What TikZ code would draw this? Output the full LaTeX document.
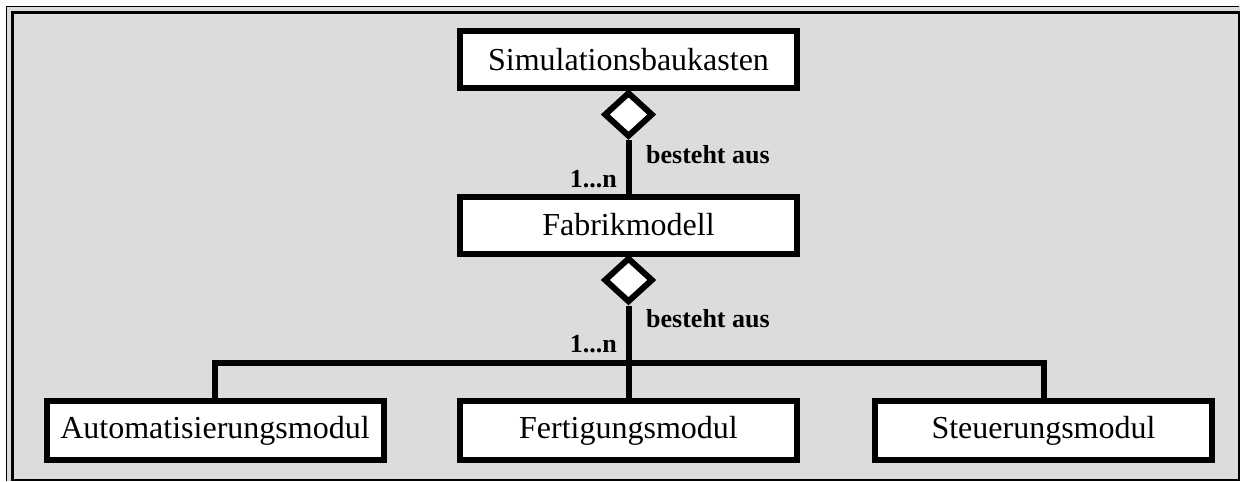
\documentclass[tikz,border=0pt]{standalone}
\usepackage{fontspec}
\setmainfont{Liberation Serif}
\usepackage{xcolor}
\usepackage{tikz}
\usetikzlibrary{positioning,shapes.geometric}

\definecolor{panelgray}{RGB}{220,220,220}

\begin{document}
\begin{tikzpicture}[x=1pt, y=-1pt,
    cls/.style={draw, line width=6pt, fill=white, minimum width=337pt,
                minimum height=57pt, inner sep=0pt, font=\fontsize{32}{38}\selectfont},
    agg/.style={draw, diamond, line width=6pt, fill=white, minimum width=49pt,
                minimum height=45pt, inner sep=0pt},
    link/.style={line width=6pt},
    role/.style={font=\fontsize{26}{30}\selectfont\bfseries, inner sep=0pt}
]
\useasboundingbox (0,0) rectangle (1243,482);

% panel with its double frame
\fill[panelgray] (6,6) rectangle (1240,481);
\draw[line width=1.8pt] (6.5,481) -- (6.5,6.5) -- (1239,6.5);
\draw[line width=2.6pt] (12.5,12.5) rectangle (1239,480);

\node[cls] (sim) at (628.5,59.5) {Simulationsbaukasten};
\node[cls] (fab) at (628.5,225) {Fabrikmodell};
\node[cls, minimum height=59pt] (auto) at (215,430.5) {Automatisierungsmodul};
\node[cls, minimum height=59pt] (fert) at (628.5,430.5) {Fertigungsmodul};
\node[cls, minimum height=59pt] (steu) at (1043.5,430.5) {Steuerungsmodul};

\node[agg, below=-2pt of sim] (agg1) {};
\node[agg, below=-2pt of fab] (agg2) {};
\coordinate (bus) at (628.5,363);

\draw[link] (agg1.south) -- (fab.north);
\draw[link] (agg2.south) -- (fert.north);
\draw[link] (auto.north) |- (bus) -| (steu.north);

\node[role, anchor=base west] (rel1) at (646,163) {besteht aus};
\node[role, anchor=base east] (mul1) at (617,187) {1...n};
\node[role, anchor=base west] (rel2) at (646,327) {besteht aus};
\node[role, anchor=base east] (mul2) at (617,352) {1...n};
\end{tikzpicture}
\end{document}
